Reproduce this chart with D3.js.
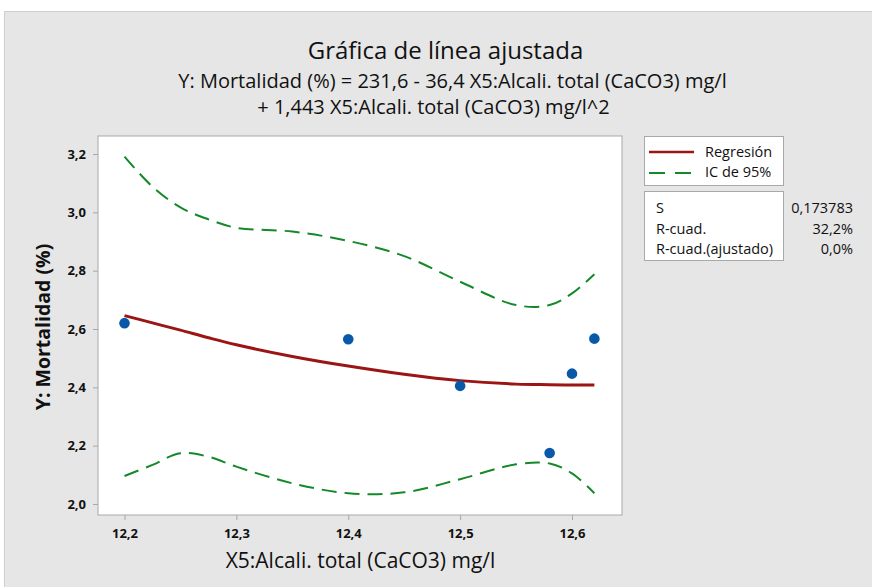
<!DOCTYPE html>
<html><head><meta charset="utf-8">
<script src="https://cdn.jsdelivr.net/npm/d3@7"></script>
<style>body{margin:0;background:#fff;} svg{display:block;font-family:"Open Sans","Noto Sans",sans-serif;}</style>
</head><body>
<script>
const xTicks = [12.2, 12.3, 12.4, 12.5, 12.6];
const yTicks = [2.0, 2.2, 2.4, 2.6, 2.8, 3.0, 3.2];
const obsX = [12.2, 12.4, 12.5, 12.58, 12.6, 12.62];
const obsY = [2.62, 2.565, 2.405, 2.175, 2.447, 2.567];
const fitX = [12.2, 12.225, 12.25, 12.275, 12.3, 12.35, 12.4, 12.45, 12.5, 12.55, 12.58, 12.6, 12.62];
const fitY = [2.646, 2.621, 2.596, 2.57, 2.546, 2.506, 2.473, 2.445, 2.423, 2.411, 2.409, 2.408, 2.408];
const ciUpper = [3.191, 3.088, 3.017, 2.976, 2.947, 2.934, 2.902, 2.85, 2.762, 2.682, 2.682, 2.722, 2.788];
const ciLower = [2.096, 2.134, 2.174, 2.162, 2.128, 2.071, 2.037, 2.040, 2.085, 2.136, 2.139, 2.105, 2.037];
const legendLabels = ["Regresión", "IC de 95%"];
const statLabels = ["S", "R-cuad.", "R-cuad.(ajustado)"];
const statValues = ["0,173783", "32,2%", "0,0%"];

const W = 872, H = 587;
const svg = d3.select("body").append("svg").attr("width", W).attr("height", H);
svg.append("rect").attr("x", 4).attr("y", 11).attr("width", W - 4).attr("height", H - 11).attr("fill", "#e6e6e6");
svg.append("line").attr("x1", 4).attr("x2", W).attr("y1", 11.5).attr("y2", 11.5).attr("stroke", "#cfcfcf");
svg.append("line").attr("x1", 4.5).attr("x2", 4.5).attr("y1", 11).attr("y2", H).attr("stroke", "#cfcfcf");

const L = 98, R = 622, T = 136, B = 515;
const x = d3.scaleLinear().domain([12.2, 12.6]).range([124.5, 572]);
const y = d3.scaleLinear().domain([2.0, 3.2]).range([504, 154]);

svg.append("rect").attr("x", L).attr("y", T).attr("width", R - L).attr("height", B - T)
  .attr("fill", "#fff").attr("stroke", "#a8a8a8").attr("stroke-width", 1);

const fmt = d => d3.format(".1f")(d).replace(".", ",");
const xAxis = svg.append("g").attr("transform", `translate(0,${B})`)
  .call(d3.axisBottom(x).tickValues(xTicks).tickSize(5).tickPadding(9).tickFormat(fmt));
const yAxis = svg.append("g").attr("transform", `translate(${L},0)`)
  .call(d3.axisLeft(y).tickValues(yTicks).tickSize(5).tickPadding(7).tickFormat(fmt));
[xAxis, yAxis].forEach(g => {
  g.select(".domain").remove();
  g.selectAll(".tick line").attr("stroke", "#a8a8a8");
  g.selectAll(".tick text").attr("fill", "#111").style("font-size", "13px").style("font-weight", "700")
    .style("font-family", "'Open Sans',sans-serif");
});

const idx = d3.range(fitX.length);
const mk = arr => d3.line().x(i => x(fitX[i])).y(i => y(arr[i])).curve(d3.curveCatmullRom.alpha(0.5));
svg.append("path").attr("d", mk(ciUpper)(idx)).attr("fill", "none").attr("stroke", "#14892a")
  .attr("stroke-width", 2).attr("stroke-dasharray", "15,8");
svg.append("path").attr("d", mk(ciLower)(idx)).attr("fill", "none").attr("stroke", "#14892a")
  .attr("stroke-width", 2).attr("stroke-dasharray", "15,8");
svg.append("path").attr("d", mk(fitY)(idx)).attr("fill", "none").attr("stroke", "#9b1515")
  .attr("stroke-width", 3);

svg.append("g").selectAll("circle").data(obsX).join("circle")
  .attr("cx", d => x(d)).attr("cy", (d, i) => y(obsY[i])).attr("r", 5.3).attr("fill", "#0a59a8");

// titles
svg.append("text").attr("x", 445.5).attr("y", 59).attr("text-anchor", "middle")
  .style("font-size", "24px").attr("fill", "#111").text("Gráfica de línea ajustada");
svg.append("text").attr("x", 452.5).attr("y", 88).attr("text-anchor", "middle")
  .style("font-size", "20px").attr("fill", "#111")
  .text("Y: Mortalidad (%) = 231,6 - 36,4 X5:Alcali. total (CaCO3) mg/l");
svg.append("text").attr("x", 433.5).attr("y", 114).attr("text-anchor", "middle")
  .style("font-size", "20px").attr("fill", "#111")
  .text("+ 1,443 X5:Alcali. total (CaCO3) mg/l^2");

svg.append("text").attr("x", 360.5).attr("y", 568).attr("text-anchor", "middle")
  .style("font-size", "21px").attr("fill", "#111").text("X5:Alcali. total (CaCO3) mg/l");
svg.append("text").attr("transform", "translate(50,327) rotate(-90)").attr("text-anchor", "middle")
  .style("font-size", "19.5px").style("font-weight", "700").attr("fill", "#111").text("Y: Mortalidad (%)");

// legend
svg.append("rect").attr("x", 644.5).attr("y", 136.5).attr("width", 139).attr("height", 49)
  .attr("fill", "#fff").attr("stroke", "#a8a8a8");
svg.append("line").attr("x1", 649).attr("x2", 694).attr("y1", 152).attr("y2", 152)
  .attr("stroke", "#9b1515").attr("stroke-width", 2.5);
svg.append("line").attr("x1", 649).attr("x2", 691).attr("y1", 173).attr("y2", 173)
  .attr("stroke", "#14892a").attr("stroke-width", 2).attr("stroke-dasharray", "16,10");
legendLabels.forEach((t, i) => {
  svg.append("text").attr("x", 705).attr("y", 157 + i * 20).style("font-size", "14.5px")
    .attr("fill", "#111").text(t);
});
svg.append("rect").attr("x", 644.5).attr("y", 191.5).attr("width", 139).attr("height", 69)
  .attr("fill", "#fff").attr("stroke", "#a8a8a8");
statLabels.forEach((t, i) => {
  svg.append("text").attr("x", 656).attr("y", 213 + i * 20.5).style("font-size", "14.5px")
    .attr("fill", "#111").text(t);
  svg.append("text").attr("x", 853).attr("y", 213 + i * 20.5).attr("text-anchor", "end")
    .style("font-size", "14.5px").attr("fill", "#111").text(statValues[i]);
});
</script>
</body></html>
